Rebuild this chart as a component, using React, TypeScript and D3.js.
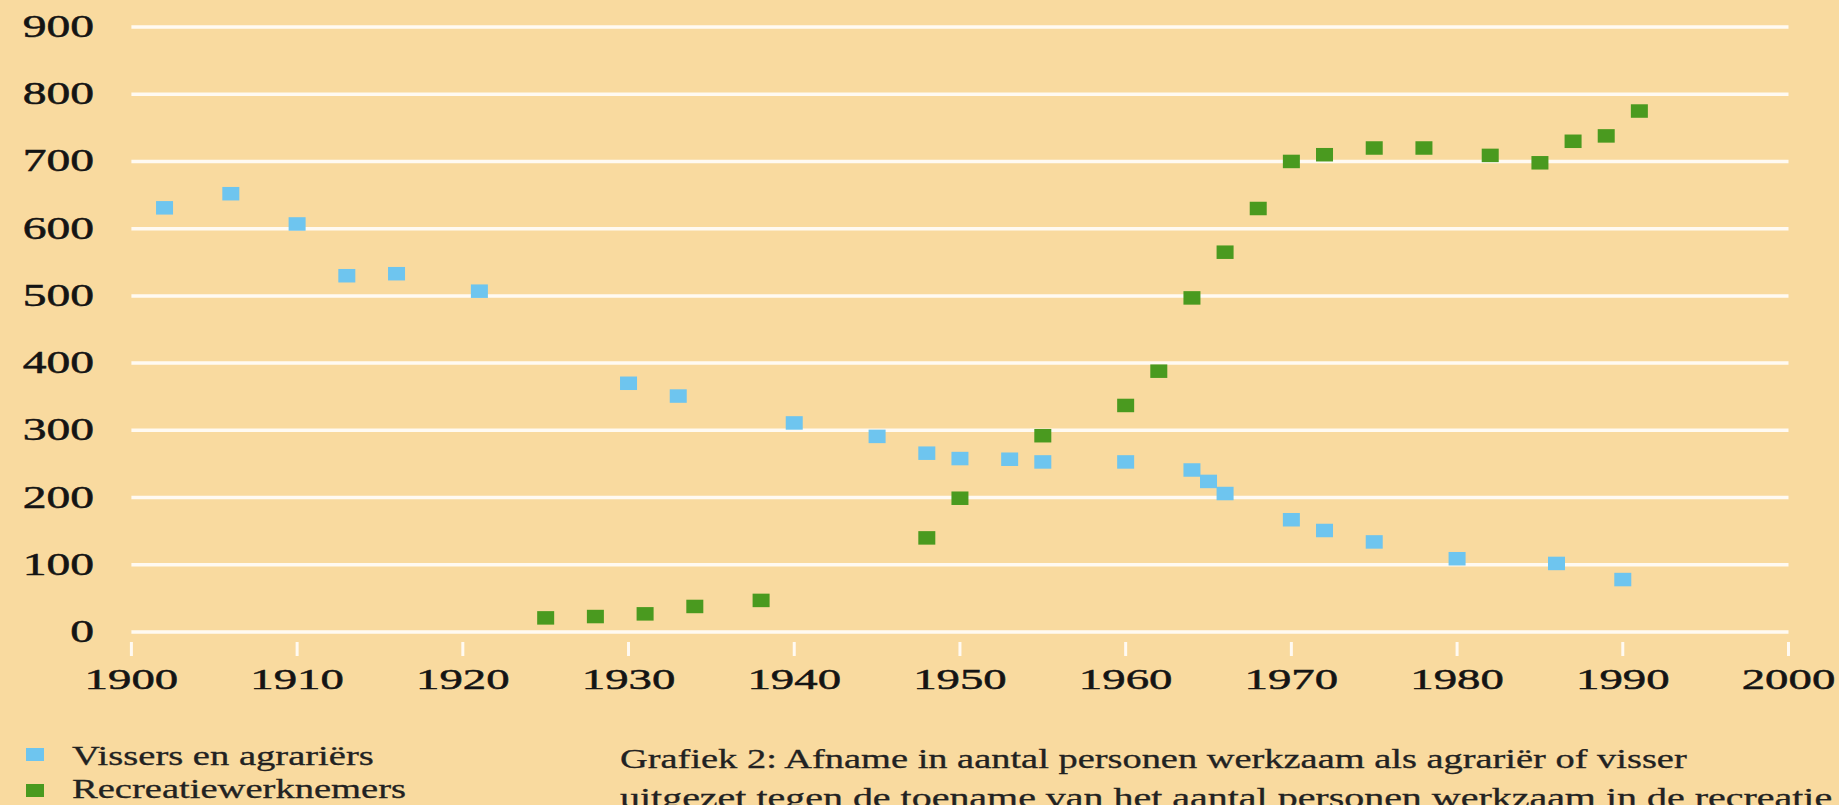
import React from "react";
import * as d3 from "d3";

// Values
const visserYears = [1902, 1906, 1910, 1913, 1916, 1921, 1930, 1933, 1940, 1945, 1948, 1950, 1953, 1955, 1960, 1964, 1965, 1966, 1970, 1972, 1975, 1980, 1986, 1990];
const visserValues = [631, 652, 607, 530, 533, 507, 370, 351, 311, 291, 266, 258, 257, 253, 253, 241, 224, 206, 167, 151, 134, 109, 102, 78];

const recreatieYears = [1925, 1928, 1931, 1934, 1938, 1948, 1950, 1955, 1960, 1962, 1964, 1966, 1968, 1970, 1972, 1975, 1978, 1982, 1985, 1987, 1989, 1991];
const recreatieValues = [21, 23, 27, 38, 47, 140, 199, 292, 337, 388, 497, 565, 630, 700, 710, 720, 720, 709, 698, 730, 738, 775];

const yTicks = [0, 100, 200, 300, 400, 500, 600, 700, 800, 900];
const xTicks = [1900, 1910, 1920, 1930, 1940, 1950, 1960, 1970, 1980, 1990, 2000];

const legendLabels = ["Vissers en agrariërs", "Recreatiewerknemers"];
const captionLines = [
  "Grafiek 2: Afname in aantal personen werkzaam als agrariër of visser",
  "uitgezet tegen de toename van het aantal personen werkzaam in de recreatie",
];

const W = 1839;
const H = 805;
const BG = "#f9da9f";
const BLUE = "#6ec5ef";
const GREEN = "#4a9a1f";
const INK = "#141414";
const FONT = "'Liberation Serif', 'Times New Roman', serif";
const SX = 1.45; // the source image is stretched sideways
const SX_NUM = 1.56;

export default function App() {
  const x = d3.scaleLinear().domain([1900, 2000]).range([131.4, 1788.5]);
  const y = d3.scaleLinear().domain([0, 900]).range([632, 27]);

  const series = [
    { years: visserYears, values: visserValues, color: BLUE },
    { years: recreatieYears, values: recreatieValues, color: GREEN },
  ];
  const mw = 17;
  const mh = 13.5;

  return (
    <div style={{ position: "fixed", left: 0, top: 0 }}>
      <svg width={W} height={H} style={{ display: "block" }}>
        <rect width={W} height={H} fill={BG} />

        {/* grid */}
        {yTicks.map((t) => (
          <line key={"g" + t} x1={x(1900)} x2={x(2000)} y1={y(t)} y2={y(t)} stroke="#fffaf2" strokeWidth={3.5} />
        ))}
        {yTicks.map((t) => (
          <text
            key={"yl" + t}
            transform={`translate(94,${y(t) + 10}) scale(${SX_NUM},1)`}
            textAnchor="end"
            fontFamily={FONT}
            fontSize={30.5}
            fill={INK}
            stroke={INK}
            strokeWidth={0.5}
          >
            {t}
          </text>
        ))}

        {/* x ticks */}
        {xTicks.map((t) => (
          <g key={"x" + t}>
            <line x1={x(t)} x2={x(t)} y1={642} y2={656} stroke="#fffaf2" strokeWidth={3} />
            <text
              transform={`translate(${x(t)},689) scale(${SX_NUM},1)`}
              textAnchor="middle"
              fontFamily={FONT}
              fontSize={30}
              fill={INK}
              stroke={INK}
              strokeWidth={0.5}
            >
              {t}
            </text>
          </g>
        ))}

        {/* points */}
        {series.map((s, si) =>
          s.years.map((yr, i) => (
            <rect
              key={si + "-" + i}
              x={x(yr) - mw / 2}
              y={y(s.values[i]) - mh / 2}
              width={mw}
              height={mh}
              fill={s.color}
            />
          ))
        )}

        {/* legend */}
        {legendLabels.map((l, i) => (
          <g key={l}>
            <rect x={26} y={748 + i * 36} width={18} height={13} fill={i === 0 ? BLUE : GREEN} />
            <text
              transform={`translate(72,${765 + i * 33}) scale(${SX},1)`}
              fontFamily={FONT}
              fontSize={26.6}
              fill="#222"
              stroke="#222"
              strokeWidth={0.3}
            >
              {l}
            </text>
          </g>
        ))}

        {/* caption */}
        {captionLines.map((c, i) => (
          <text
            key={i}
            transform={`translate(620,${768 + i * 39}) scale(${i === 0 ? SX : 1.508},1)`}
            fontFamily={FONT}
            fontSize={26.5}
            fill="#222"
            stroke="#222"
            strokeWidth={0.3}
          >
            {c}
          </text>
        ))}
      </svg>
    </div>
  );
}
